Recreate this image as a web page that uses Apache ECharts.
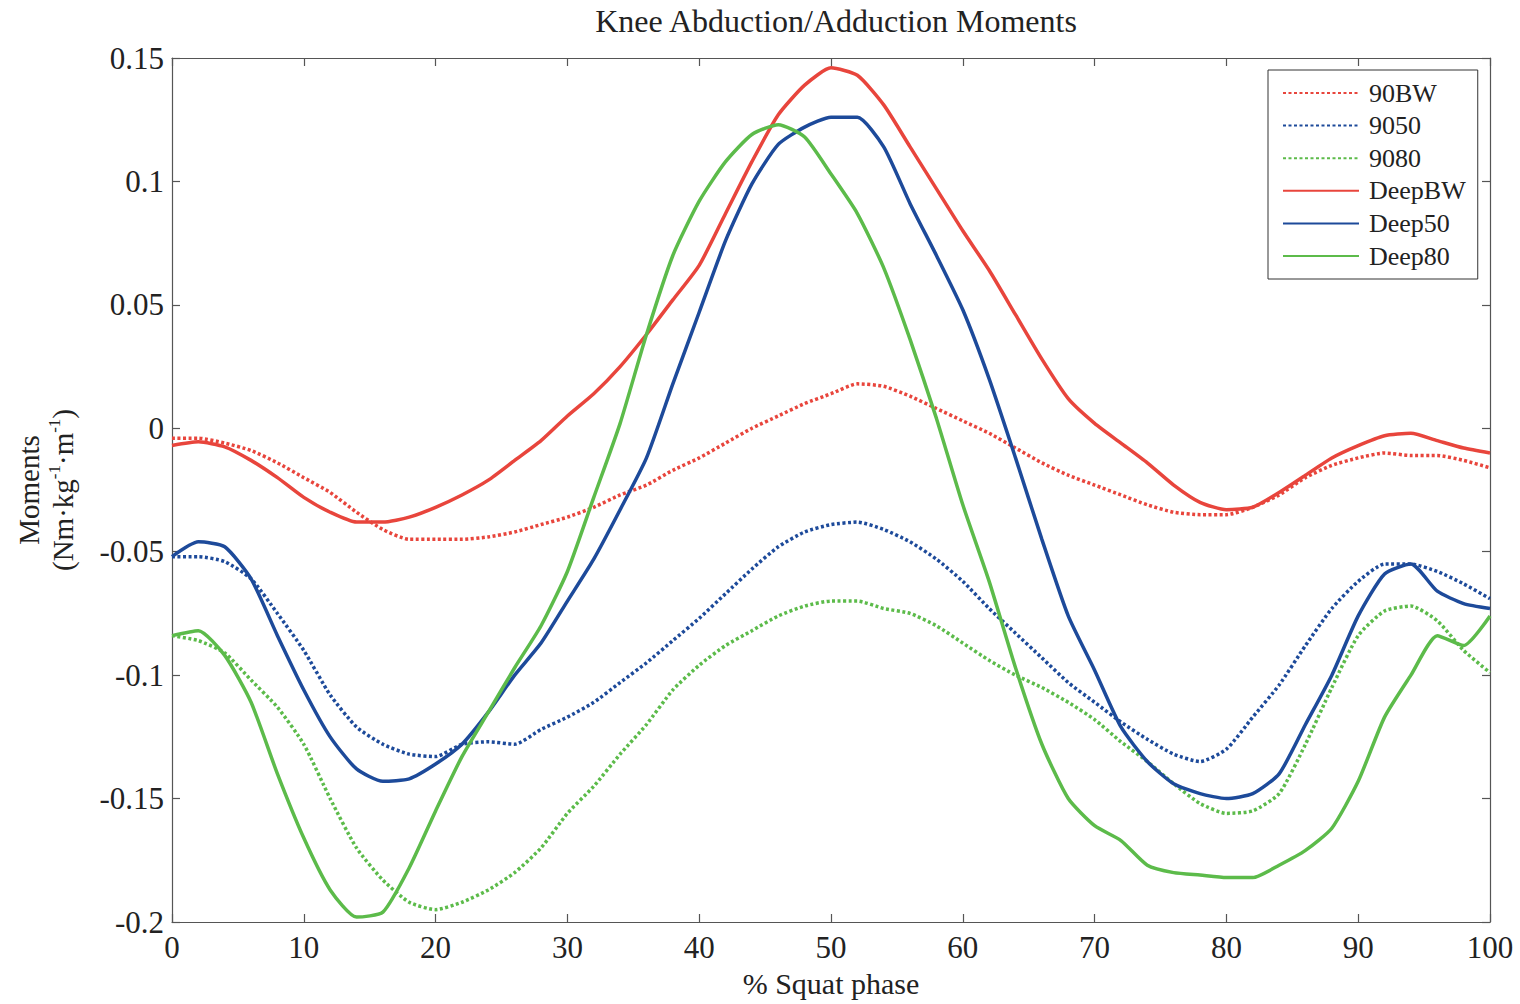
<!DOCTYPE html>
<html>
<head>
<meta charset="utf-8">
<script src="https://cdn.jsdelivr.net/npm/echarts@6/dist/echarts.min.js"></script>
<style>
  html, body { margin: 0; padding: 0; background: #fff; }
  #chart { width: 1520px; height: 1004px; }
</style>
</head>
<body>
<div id="chart"></div>
<script>
// ---- data ----
const phase = [0,2,4,6,8,10,12,14,16,18,20,22,24,26,28,30,32,34,36,38,40,42,44,46,48,50,
               52,54,56,58,60,62,64,66,68,70,72,74,76,78,80,82,84,86,88,90,92,94,96,98,100];

const s90BW = [-0.004,-0.004,-0.006,-0.009,-0.014,-0.020,-0.026,-0.034,-0.041,-0.045,-0.045,-0.045,-0.044,
               -0.042,-0.039,-0.036,-0.032,-0.027,-0.023,-0.017,-0.012,-0.006,0.000,0.005,0.010,0.014,
               0.018,0.017,0.013,0.008,0.003,-0.002,-0.008,-0.014,-0.019,-0.023,-0.027,-0.031,-0.034,
               -0.035,-0.035,-0.032,-0.027,-0.020,-0.015,-0.012,-0.010,-0.011,-0.011,-0.013,-0.016];

const s9050 = [-0.052,-0.052,-0.054,-0.061,-0.075,-0.090,-0.108,-0.121,-0.128,-0.132,-0.133,-0.128,-0.127,
               -0.128,-0.122,-0.117,-0.111,-0.103,-0.095,-0.086,-0.077,-0.067,-0.057,-0.048,-0.042,-0.039,
               -0.038,-0.041,-0.046,-0.053,-0.062,-0.073,-0.083,-0.093,-0.103,-0.111,-0.119,-0.126,-0.132,
               -0.135,-0.130,-0.117,-0.104,-0.088,-0.073,-0.062,-0.055,-0.055,-0.058,-0.063,-0.069];

const s9080 = [-0.084,-0.086,-0.091,-0.102,-0.113,-0.128,-0.150,-0.170,-0.183,-0.192,-0.195,-0.192,-0.187,
               -0.180,-0.170,-0.156,-0.145,-0.132,-0.120,-0.106,-0.096,-0.088,-0.082,-0.076,-0.072,-0.070,
               -0.070,-0.073,-0.075,-0.080,-0.087,-0.094,-0.100,-0.105,-0.111,-0.118,-0.127,-0.135,-0.144,
               -0.152,-0.156,-0.155,-0.148,-0.128,-0.105,-0.084,-0.074,-0.072,-0.078,-0.090,-0.099];

const sDeepBW = [-0.007,-0.0055,-0.0075,-0.013,-0.020,-0.028,-0.034,-0.038,-0.038,-0.036,-0.032,-0.027,-0.021,
                 -0.013,-0.005,0.005,0.014,0.025,0.038,0.052,0.066,0.087,0.108,0.127,0.139,0.146,
                 0.143,0.131,0.114,0.097,0.080,0.064,0.046,0.028,0.012,0.002,-0.006,-0.014,-0.023,
                 -0.030,-0.033,-0.032,-0.026,-0.019,-0.012,-0.007,-0.003,-0.002,-0.005,-0.008,-0.010];

const sDeep50 = [-0.052,-0.046,-0.048,-0.061,-0.084,-0.106,-0.125,-0.138,-0.143,-0.142,-0.136,-0.128,-0.115,
                 -0.100,-0.087,-0.070,-0.053,-0.033,-0.012,0.018,0.047,0.076,0.099,0.115,0.122,0.126,
                 0.126,0.114,0.091,0.070,0.048,0.020,-0.012,-0.045,-0.076,-0.098,-0.121,-0.135,-0.144,
                 -0.148,-0.150,-0.148,-0.140,-0.120,-0.100,-0.076,-0.059,-0.055,-0.066,-0.071,-0.073];

const sDeep80 = [-0.084,-0.082,-0.092,-0.111,-0.140,-0.166,-0.187,-0.198,-0.196,-0.178,-0.155,-0.133,-0.115,
                 -0.097,-0.080,-0.058,-0.028,0.002,0.038,0.070,0.092,0.108,0.119,0.123,0.118,0.103,
                 0.087,0.065,0.036,0.004,-0.031,-0.062,-0.097,-0.128,-0.150,-0.161,-0.167,-0.177,-0.180,
                 -0.181,-0.182,-0.182,-0.177,-0.171,-0.162,-0.143,-0.117,-0.100,-0.084,-0.088,-0.076];

const seriesNames = ['90BW','9050','9080','DeepBW','Deep50','Deep80'];
const xTickLabels = ['0','10','20','30','40','50','60','70','80','90','100'];
const yTickLabels = ['-0.2','-0.15','-0.1','-0.05','0','0.05','0.1','0.15'];

// ---- chart ----
const FONT = '"Liberation Serif", "Times New Roman", serif';
const RED = '#e8453c', BLUE = '#1d4a9a', GREEN = '#5cbb4a';
const AXC = '#555';

function pairs(ys) { return phase.map((x, i) => [x, ys[i]]); }
function fmtY(v) {
  const hit = yTickLabels.find(t => Math.abs(parseFloat(t) - v) < 1e-9);
  return hit !== undefined ? hit : '';
}
function fmtX(v) {
  const hit = xTickLabels.find(t => Math.abs(parseFloat(t) - v) < 1e-9);
  return hit !== undefined ? hit : '';
}

const dotted = [3, 2.5];
const specs = [
  { data: s90BW,  color: RED,   type: dotted, w: 3.5 },
  { data: s9050,  color: BLUE,  type: dotted, w: 3.5 },
  { data: s9080,  color: GREEN, type: dotted, w: 3.5 },
  { data: sDeepBW, color: RED,   type: 'solid', w: 3.5 },
  { data: sDeep50, color: BLUE,  type: 'solid', w: 3.5 },
  { data: sDeep80, color: GREEN, type: 'solid', w: 3.5 }
];

const chart = echarts.init(document.getElementById('chart'), null, { renderer: 'svg' });

const boxAxisCommon = {
  axisLine: { show: true, onZero: false, lineStyle: { color: AXC, width: 1.2 } },
  axisTick: { show: true, inside: true, length: 8, lineStyle: { color: AXC, width: 1.2 } },
  splitLine: { show: false }
};

chart.setOption({
  backgroundColor: '#fff',
  animation: false,
  title: {
    text: 'Knee Abduction/Adduction Moments',
    left: 831, top: 0, textAlign: 'center',
    textStyle: { fontFamily: FONT, fontSize: 32, fontWeight: 'normal', color: '#222' }
  },
  grid: { left: 172, right: 30, top: 58, bottom: 82, containLabel: false },
  legend: {
    orient: 'vertical',
    left: 1268, top: 70,
    padding: [10, 12, 10, 14],
    itemWidth: 76, itemHeight: 10, itemGap: 6.6,
    borderColor: '#333', borderWidth: 1, backgroundColor: '#fff',
    itemStyle: { opacity: 0 },
    textStyle: { fontFamily: FONT, fontSize: 26, color: '#222', lineHeight: 26, padding: [0, 0, 0, 5] },
    data: seriesNames
  },
  xAxis: [
    Object.assign({
      type: 'value', min: 0, max: 100, interval: 10, position: 'bottom',
      name: '% Squat phase', nameLocation: 'middle', nameGap: 46,
      nameTextStyle: { fontFamily: FONT, fontSize: 30, color: '#222' },
      axisLabel: { fontFamily: FONT, fontSize: 31, color: '#222', margin: 10, formatter: fmtX }
    }, boxAxisCommon),
    Object.assign({
      type: 'value', min: 0, max: 100, interval: 10, position: 'top',
      axisLabel: { show: false }
    }, boxAxisCommon)
  ],
  yAxis: [
    Object.assign({
      type: 'value', min: -0.2, max: 0.15, interval: 0.05, position: 'left',
      name: '{a|Moments}\n{a|(Nm·kg}{s|-1}{a|·m}{s|-1}{a|)}',
      nameLocation: 'middle', nameGap: 92,
      nameTextStyle: {
        fontFamily: FONT, color: '#222',
        rich: {
          a: { fontFamily: FONT, fontSize: 29, color: '#222', lineHeight: 34 },
          s: { fontFamily: FONT, fontSize: 17, color: '#222', lineHeight: 34, verticalAlign: 'top', padding: [0, 0, 14, 0] }
        }
      },
      axisLabel: { fontFamily: FONT, fontSize: 31, color: '#222', margin: 8, formatter: fmtY }
    }, boxAxisCommon),
    Object.assign({
      type: 'value', min: -0.2, max: 0.15, interval: 0.05, position: 'right',
      axisLabel: { show: false }
    }, boxAxisCommon)
  ],
  series: specs.map((s, i) => ({
    name: seriesNames[i],
    type: 'line',
    xAxisIndex: 0, yAxisIndex: 0,
    data: pairs(s.data),
    symbol: 'none',
    smooth: 0.2,
    lineStyle: { color: s.color, width: s.w, type: s.type },
    itemStyle: { color: s.color },
    z: i < 3 ? 2 : 3
  }))
});
</script>
</body>
</html>
